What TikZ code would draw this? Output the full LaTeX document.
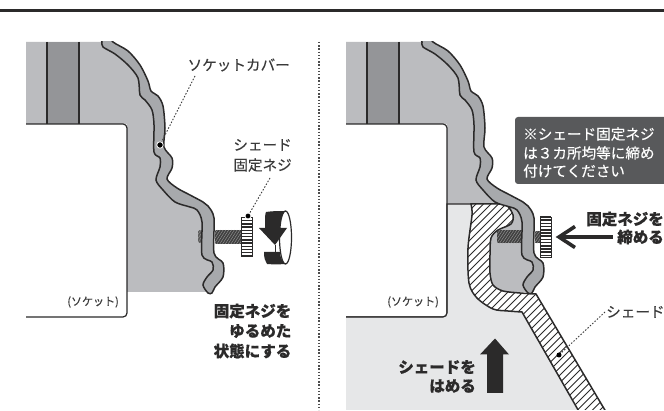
\documentclass[tikz,border=0pt]{standalone}
\usepackage{fontspec}
\setmainfont[FakeBold=0.2,BoldFeatures={FakeBold=0.5}]{Noto Sans CJK JP}
\definecolor{sockg}{HTML}{BBBCBF}
\definecolor{bandg}{HTML}{949598}
\definecolor{coverg}{HTML}{A7A9AC}
\definecolor{lightg}{HTML}{E6E7E8}
\definecolor{inkk}{HTML}{2B2A2A}
\definecolor{noteg}{HTML}{58595B}
\definecolor{txtg}{HTML}{3A3A3A}
\def\coverpath{plot[smooth cycle,tension=0.5] coordinates {(108,34)(113,42)(128,51)(140,65)(148,81)(151,91)(158,96)(163,106)(165,128)(164,147)(172,158)(172,168)(167,179)(177,188)(190,195)(203,202)(208,206)(214,218)(214,253)(223,263)(223,277)(215,287)(212,293)(208,293)(203,285)(207,277)(213,270)(212,262)(202,255)(202,222)(197,210)(190,207)(175,202)(163,190)(156,180)(160,167)(160,158)(154,152)(154,125)(152,110)(145,100)(140,95)(138,78)(128,65)(115,54)(103,47)(102,42)(100,34)}}
\def\shadepath{plot[smooth,tension=0.5] coordinates {(471,204)(490,204)(506,205)(513,215)(511,224)(498,230)(491,238)(490,255)(490,273)(493,285)(503,291)(520,293)(536,294)} -- (612,422) -- (585,422) -- plot[smooth,tension=0.5] coordinates {(522,312)(508,311)(493,309)(477,298)(469,283)(468,248)(472,215)(471,204)} -- cycle}
\newcommand{\sockblock}{%
  \fill[sockg] (26,42)--(108,42)--(121,52)--(134,65)--(143,80)--(146,95)--(158,105)--(160,125)--(160,150)--(166,160)--(166,168)--(162,180)--(170,190)--(183,198)--(197,205)--(208,218)--(208,255)--(217,265)--(217,278)--(210,292)--(127,292)--(127,124)--(26,124)--cycle;
  \fill[bandg] (47,42) rectangle (79,124);
  \draw[edge] (47,42)--(47,124) (79,42)--(79,124);
  \draw[edge] (26,124)--(123,124) arc[start angle=-90,end angle=0,radius=4] -- (127,313) arc[start angle=0,end angle=90,radius=4] -- (26,317);
}
\newcommand{\coverdraw}{%
  \begin{scope}
    \clip (0,42) rectangle (330,300);
    \draw[line width=1.5pt,draw=inkk,fill=coverg] \coverpath;
  \end{scope}
}
\newcommand{\screwbody}[5]{% x1 x2 y1 y2 fill
  \begin{scope}
    \clip[rounded corners=1.5pt] (#1,#3) rectangle (#2,#4);
    \fill[#5] (#1,#3) rectangle (#2,#4);
    \foreach \c in {0,2.8,...,60}{
      \draw[white!60!black,line width=0.4pt] ({#1+\c-20},#4)--({#1+\c-20+9},#3);
    }
  \end{scope}
}
\newcommand{\knob}[4]{% x1 x2 y1 y2
  \fill[white] (#1,#3) rectangle (#2,#4);
  \begin{scope}
    \clip (#1,#3) rectangle (#2,#4);
    \foreach \d in {0,3.2,...,42}{
      \draw[inkk,line width=1.5pt] (#1,{#3+\d})--(#2,{#3+\d});
    }
  \end{scope}
  \draw[inkk,line width=0.9pt] (#1,#3) rectangle (#2,#4);
}
\tikzset{
  x=1pt,y=-1pt,
  edge/.style={draw=inkk,line width=1.2pt},
  leader/.style={draw=txtg,line width=0.9pt,dash pattern=on 1.5pt off 1.7pt},
  lab/.style={inner sep=0,text=txtg,font=\fontsize{14.6}{14.6}\selectfont},
  blab/.style={inner sep=0,text=inkk,font=\fontsize{15.5}{15.5}\selectfont\bfseries},
  smalllab/.style={inner sep=0,text=txtg,font=\fontsize{11}{11}\selectfont},
  notelab/.style={inner sep=0,text=white,anchor=west,font=\fontsize{14.6}{14.6}\selectfont},
  dotm/.style={circle,fill=black,draw=white,line width=0.8pt,inner sep=0,minimum size=6.5pt},
}
\begin{document}
\begin{tikzpicture}
\useasboundingbox (0,0) rectangle (664,411);
\fill[white] (0,0) rectangle (664,411);
\draw[inkk,line width=3pt] (0,10.5)--(664,10.5);
% ---------- left panel
\sockblock
\screwbody{198}{205}{230}{243}{black!65}
\coverdraw
\screwbody{214.5}{242}{230}{244}{black!75}
\knob{241.5}{252}{217.5}{256.5}
% rotation mark
\fill[inkk] (264,252) .. controls (264,258) and (265,261) .. (267,264) .. controls (273,264.5) and (279,264.5) .. (285,264) .. controls (282,261) and (280,257) .. (280,252) -- cycle;
\fill[inkk] (265,228) -- (265,222) .. controls (265,218) and (265,214) .. (266,212) .. controls (272,211) and (279,211) .. (285,211) .. controls (281,216) and (280,222) .. (280,228) -- (287,228) -- (275,245) -- (259,228) -- cycle;
\draw[inkk,line width=0.8pt] (275,245)--(275,252);
\draw[inkk,line width=1.2pt] (285.5,237.5) ellipse[x radius=6,y radius=26.5];
% ---------- divider
\draw[draw=black!70,line width=1.2pt,dash pattern=on 1.5pt off 1.7pt] (319,42)--(319,410);
% ---------- right panel
\begin{scope}[shift={(320,0)}]
  \sockblock
\end{scope}
\begin{scope}
  \clip (330,0) rectangle (664,410);
  \fill[lightg] (346,317.5)--(443,317.5)--(447.6,313)--(447.6,204)--(480,204)--(480,300)--(530,300)--(592,420)--(346,420)--cycle;
  \draw[edge] (346,317)--(443,317) arc[start angle=90,end angle=0,radius=4] -- (447,204) -- (480,204);
  \fill[white] \shadepath;
  \begin{scope}
    \clip \shadepath;
    \foreach \c in {650,657.5,...,1040}{
      \draw[inkk,line width=0.8pt] ({\c-190},190)--({\c-430},430);
    }
  \end{scope}
  \draw[inkk,line width=1.5pt] \shadepath;
\end{scope}
\screwbody{497}{524}{230}{243.5}{black!75}
\begin{scope}[shift={(320,0)}]
  \coverdraw
\end{scope}
\screwbody{534.5}{541}{231}{243.5}{black!75}
\knob{540}{551}{217}{257}
% arrows
\fill[inkk] (495,338.5)--(509,354.5)--(503,354.5)--(503,393)--(487,393)--(487,354.5)--(480,354.5)--cycle;
\draw[inkk,line width=3.6pt,line join=miter] (575,226.5)--(559,237)--(575,247.5);
\draw[inkk,line width=3.6pt] (561,237)--(613,237);
% note box
\fill[noteg,rounded corners=3pt] (515,117) rectangle (672,184);
% ---------- labels
\node[lab,anchor=east] (lcover) at (290,65) {ソケットカバー};
\node[lab,anchor=east] (lscrew1) at (292,145) {シェード};
\node[lab,anchor=east] (lscrew2) at (292,165) {固定ネジ};
\node[smalllab,anchor=east] (lsock) at (119,302) {(ソケット)};
\node[blab,anchor=east] (lt1) at (291.5,311) {固定ネジを};
\node[blab,anchor=east] (lt2) at (291.5,331) {ゆるめた};
\node[blab,anchor=east] (lt3) at (291.5,351) {状態にする};
\node[notelab] (n1) at (523,134) {※シェード固定ネジ};
\node[notelab] (n2) at (523,153) {は３カ所均等に締め};
\node[notelab] (n3) at (523,171) {付けてください};
\node[blab,anchor=east] (rt1) at (664,219) {固定ネジを};
\node[blab,anchor=east] (rt2) at (664,237) {締める};
\node[lab,anchor=west] (rshade) at (606,312) {シェード};
\node[smalllab,anchor=east] (rsock) at (439,302) {(ソケット)};
\node[blab,anchor=east] (rs1) at (476,367) {シェードを};
\node[blab,anchor=east] (rs2) at (476,386) {はめる};
% ---------- leaders
\node[dotm] (d1) at (160,145) {};
\node[dotm,minimum size=6pt] (d2) at (248,216) {};
\node[dotm,draw=none,minimum size=5pt] (d3) at (559,355) {};
\coordinate (a1) at (195,76);
\coordinate (a2) at (270,178);
\coordinate (a3) at (605,312);
\draw[leader] (a1)--(d1);
\draw[leader] (a2)--(d2);
\draw[leader] (a3)--(d3);
\end{tikzpicture}
\end{document}
